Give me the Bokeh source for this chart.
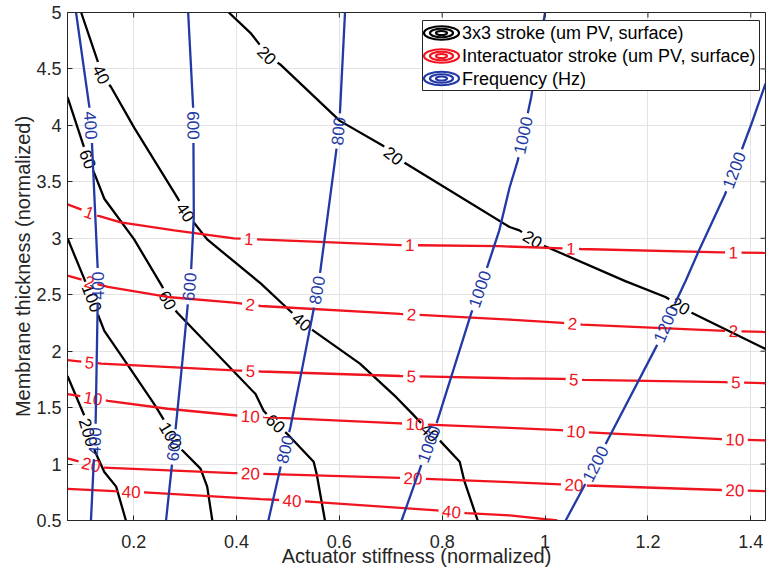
import math
from bokeh.plotting import figure
from bokeh.models import FixedTicker, Range1d
from bokeh.core.properties import value
from bokeh.embed import file_html
from bokeh.resources import INLINE

# ---------------- data ----------------
X0, X1 = 0.0714, 1.4286
Y0, Y1 = 0.5, 5.0

x_ticks = [0.2, 0.4, 0.6, 0.8, 1.0, 1.2, 1.4]
x_tick_labels = ["0.2", "0.4", "0.6", "0.8", "1", "1.2", "1.4"]
y_ticks = [0.5, 1.0, 1.5, 2.0, 2.5, 3.0, 3.5, 4.0, 4.5, 5.0]
y_tick_labels = ["0.5", "1", "1.5", "2", "2.5", "3", "3.5", "4", "4.5", "5"]

x_label = "Actuator stiffness (normalized)"
y_label = "Membrane thickness (normalized)"
series_names = ["3x3 stroke (um PV, surface)",
                "Interactuator stroke (um PV, surface)",
                "Frequency (Hz)"]

# 3x3 stroke contours (black)
stroke_levels = [20, 40, 60, 100, 200]
stroke_x = [
    [0.385, 0.427, 0.446, 0.459, 0.485, 0.601, 0.685, 0.705, 0.730, 0.931, 0.950, 0.976, 1.0, 1.156, 1.234, 1.263, 1.285, 1.4286],
    [0.098, 0.130, 0.137, 0.156, 0.201, 0.285, 0.301, 0.317, 0.343, 0.447, 0.508, 0.527, 0.550, 0.640, 0.711, 0.743, 0.776, 0.795, 0.834, 0.843, 0.869],
    [0.0714, 0.104, 0.111, 0.124, 0.143, 0.201, 0.256, 0.266, 0.285, 0.437, 0.453, 0.476, 0.498, 0.550, 0.556, 0.572],
    [0.0714, 0.104, 0.119, 0.130, 0.143, 0.191, 0.240, 0.259, 0.272, 0.295, 0.330, 0.343, 0.353],
    [0.0714, 0.104, 0.112, 0.126, 0.143, 0.166, 0.185],
]
stroke_y = [
    [5.0, 4.82, 4.71, 4.62, 4.54, 4.04, 3.82, 3.73, 3.66, 3.10, 3.07, 2.99, 2.93, 2.62, 2.48, 2.40, 2.34, 2.02],
    [5.0, 4.57, 4.45, 4.34, 3.98, 3.36, 3.23, 3.14, 2.99, 2.60, 2.34, 2.26, 2.18, 1.89, 1.59, 1.44, 1.28, 1.21, 1.02, 0.85, 0.5],
    [4.25, 3.80, 3.70, 3.57, 3.35, 2.99, 2.57, 2.45, 2.34, 1.62, 1.47, 1.36, 1.27, 1.02, 0.91, 0.5],
    [3.0, 2.64, 2.47, 2.33, 2.18, 1.86, 1.53, 1.39, 1.25, 1.12, 0.96, 0.80, 0.5],
    [1.78, 1.43, 1.28, 1.10, 0.93, 0.80, 0.5],
]
stroke_label_x = [[0.459, 0.705, 0.976, 1.263], [0.137, 0.301, 0.527, 0.776],
                  [0.111, 0.266, 0.476], [0.119, 0.272], [0.112]]
stroke_label_y = [[4.62, 3.73, 2.99, 2.40], [4.45, 3.23, 2.26, 1.28],
                  [3.70, 2.45, 1.36], [2.47, 1.25], [1.28]]

# interactuator stroke contours (red)
inter_levels = [1, 2, 5, 10, 20, 40]
inter_x = [
    [0.0714, 0.130, 0.175, 0.279, 0.395, 0.440, 0.718, 0.911, 1.034, 1.069, 1.343, 1.4286],
    [0.0714, 0.117, 0.150, 0.266, 0.395, 0.447, 0.718, 0.931, 1.034, 1.072, 1.350, 1.4286],
    [0.0714, 0.137, 0.395, 0.447, 0.718, 0.931, 1.034, 1.076, 1.350, 1.4286],
    [0.0714, 0.150, 0.266, 0.401, 0.453, 0.718, 0.931, 1.030, 1.085, 1.343, 1.4286],
    [0.0714, 0.137, 0.395, 0.718, 0.931, 1.030, 1.082, 1.343, 1.4286],
    [0.0714, 0.162, 0.221, 0.447, 0.534, 0.789, 0.847, 0.931, 1.024],
]
inter_y = [
    [3.30, 3.20, 3.14, 3.07, 3.00, 2.99, 2.94, 2.93, 2.91, 2.905, 2.875, 2.87],
    [2.67, 2.61, 2.57, 2.48, 2.43, 2.40, 2.33, 2.28, 2.25, 2.235, 2.18, 2.17],
    [1.92, 1.89, 1.83, 1.82, 1.78, 1.76, 1.755, 1.745, 1.725, 1.716],
    [1.62, 1.56, 1.49, 1.43, 1.415, 1.36, 1.32, 1.30, 1.28, 1.22, 1.21],
    [1.05, 0.97, 0.92, 0.878, 0.84, 0.82, 0.81, 0.77, 0.76],
    [0.78, 0.76, 0.75, 0.69, 0.67, 0.59, 0.565, 0.545, 0.5],
]
inter_label_x = [[0.114, 0.424, 0.737, 1.050, 1.366], [0.114, 0.427, 0.740, 1.053, 1.366],
                 [0.114, 0.427, 0.740, 1.056, 1.371], [0.121, 0.427, 0.747, 1.060, 1.369],
                 [0.117, 0.427, 0.743, 1.056, 1.369], [0.195, 0.508, 0.818]]
inter_label_y = [[3.23, 2.99, 2.93, 2.905, 2.875], [2.61, 2.42, 2.315, 2.24, 2.18],
                 [1.89, 1.82, 1.78, 1.75, 1.72], [1.58, 1.43, 1.35, 1.28, 1.21],
                 [0.99, 0.915, 0.86, 0.81, 0.76], [0.745, 0.67, 0.574]]

# frequency contours (blue)
freq_levels = [400, 600, 800, 1000, 1200]
freq_x = [
    [0.088, 0.114, 0.119, 0.130, 0.130, 0.126, 0.1226, 0.117],
    [0.306, 0.316, 0.317, 0.312, 0.305, 0.295, 0.282, 0.274, 0.263],
    [0.611, 0.601, 0.595, 0.563, 0.550, 0.527, 0.505, 0.485, 0.462],
    [1.0, 0.973, 0.947, 0.931, 0.911, 0.885, 0.856, 0.789, 0.760, 0.721],
    [1.4286, 1.401, 1.350, 1.299, 1.273, 1.240, 1.222, 1.118, 1.079, 1.040],
]
freq_y = [
    [5.0, 4.16, 3.84, 2.74, 2.40, 1.33, 1.03, 0.5],
    [5.0, 4.13, 3.19, 2.74, 2.40, 1.92, 1.33, 0.97, 0.5],
    [5.0, 4.10, 3.81, 2.71, 2.37, 1.83, 1.33, 0.96, 0.5],
    [5.0, 4.25, 3.69, 3.45, 3.07, 2.71, 2.33, 1.36, 1.0, 0.5],
    [4.37, 4.01, 3.39, 2.89, 2.62, 2.30, 2.09, 1.18, 0.83, 0.5],
]
freq_label_x = [[0.117, 0.129, 0.125], [0.314, 0.310, 0.279], [0.598, 0.556, 0.495],
                [0.960, 0.879, 0.772], [1.369, 1.234, 1.098]]
freq_label_y = [[4.0, 2.58, 1.2], [4.0, 2.57, 1.15], [3.95, 2.54, 1.13],
                [3.91, 2.54, 1.18], [3.60, 2.24, 1.0]]

# ---------------- styling ----------------
BLACK, RED, BLUE = "#000000", "#f0141e", "#2239a6"
AX = "#262626"
FONT = "Liberation Sans"
FW, FH = 698, 508
LBL_FS = 17


def to_s(x, y):
    return ((x - X0) / (X1 - X0) * FW, (y - Y0) / (Y1 - Y0) * FH)


def to_d(sx, sy):
    return (X0 + sx / FW * (X1 - X0), Y0 + sy / FH * (Y1 - Y0))


def split_line(xs, ys, lxs, lys, text):
    pts = [to_s(x, y) for x, y in zip(xs, ys)]
    cum = [0.0]
    for i in range(1, len(pts)):
        cum.append(cum[-1] + math.dist(pts[i - 1], pts[i]))

    def at(s):
        s = min(max(s, 0.0), cum[-1])
        for i in range(1, len(pts)):
            if s <= cum[i] or i == len(pts) - 1:
                seg = cum[i] - cum[i - 1]
                t = 0 if seg == 0 else (s - cum[i - 1]) / seg
                return (pts[i - 1][0] + t * (pts[i][0] - pts[i - 1][0]),
                        pts[i - 1][1] + t * (pts[i][1] - pts[i - 1][1]))

    def project(q):
        best = None
        for i in range(1, len(pts)):
            ax, ay = pts[i - 1]
            bx, by = pts[i]
            dx, dy = bx - ax, by - ay
            L2 = dx * dx + dy * dy
            t = 0 if L2 == 0 else max(0, min(1, ((q[0] - ax) * dx + (q[1] - ay) * dy) / L2))
            px, py = ax + t * dx, ay + t * dy
            d = math.hypot(q[0] - px, q[1] - py)
            if best is None or d < best[0]:
                best = (d, cum[i - 1] + t * math.sqrt(L2))
        return best[1]

    cuts, labs = [], []
    for lx, ly in zip(lxs, lys):
        s = project(to_s(lx, ly))
        g = len(text) * 0.556 * LBL_FS / 2 + 3.5
        a, b, c = at(s - g), at(s + g), at(s)
        ang = math.atan2(b[1] - a[1], b[0] - a[0])
        if ang > math.pi / 2:
            ang -= math.pi
        elif ang <= -math.pi / 2:
            ang += math.pi
        cuts.append((s - g, s + g))
        dx, dy = to_d(*c)
        labs.append((dx, dy, ang))
    cuts.sort()
    keep, start = [], 0.0
    for a, b in cuts:
        if a > start:
            keep.append((start, a))
        start = max(start, b)
    if start < cum[-1]:
        keep.append((start, cum[-1]))
    pieces = []
    for a, b in keep:
        seg = [at(a)] + [pts[i] for i in range(len(pts)) if a < cum[i] < b] + [at(b)]
        d = [to_d(*p) for p in seg]
        pieces.append(([p[0] for p in d], [p[1] for p in d]))
    return pieces, labs


p = figure(frame_width=FW, frame_height=FH,
           x_range=Range1d(X0, X1), y_range=Range1d(Y0, Y1),
           output_backend="svg", toolbar_location=None,
           min_border_left=67, min_border_right=1, min_border_top=12, min_border_bottom=57,
           background_fill_color="white", border_fill_color="white",
           outline_line_color=AX, outline_line_width=1)

xt = FixedTicker(ticks=x_ticks)
yt = FixedTicker(ticks=y_ticks)
p.xaxis.ticker = xt
p.yaxis.ticker = yt
p.xaxis.major_label_overrides = {t: l for t, l in zip(x_ticks, x_tick_labels)}
p.yaxis.major_label_overrides = {t: l for t, l in zip(y_ticks, y_tick_labels)}
p.xgrid.ticker = xt
p.ygrid.ticker = yt
p.grid.grid_line_color = "#e3e3e3"
p.grid.grid_line_width = 1

for ax in (p.xaxis[0], p.yaxis[0]):
    ax.major_tick_in = 5
    ax.major_tick_out = 0
    ax.minor_tick_line_color = None
    ax.axis_line_color = AX
    ax.major_tick_line_color = AX
    ax.major_label_text_font = FONT
    ax.major_label_text_font_size = "18px"
    ax.major_label_text_color = AX
    ax.axis_label_text_font = FONT
    ax.axis_label_text_font_size = "20px"
    ax.axis_label_text_font_style = "normal"
    ax.axis_label_text_color = AX
p.xaxis.axis_label = x_label
p.yaxis.axis_label = y_label
p.xaxis.major_label_standoff = 14
p.xaxis.axis_label_standoff = -6
p.yaxis.major_label_standoff = 6
p.yaxis.axis_label_standoff = -1


def draw_group(levels, xs, ys, lxs, lys, color):
    all_x, all_y = [], []
    tx, ty, tt, ta = [], [], [], []
    for lev, x, y, lx, ly in zip(levels, xs, ys, lxs, lys):
        pieces, labs = split_line(x, y, lx, ly, str(lev))
        for px_, py_ in pieces:
            all_x.append(px_)
            all_y.append(py_)
        for dx, dy, ang in labs:
            tx.append(dx)
            ty.append(dy)
            tt.append(str(lev))
            ta.append(ang)
    p.multi_line(all_x, all_y, line_color=color, line_width=2.3)
    p.text(tx, ty, text=tt, angle=ta, text_color=color, text_font=value(FONT),
           text_font_size=f"{LBL_FS}px", text_align="center", text_baseline="middle")


draw_group(stroke_levels, stroke_x, stroke_y, stroke_label_x, stroke_label_y, BLACK)
draw_group(inter_levels, inter_x, inter_y, inter_label_x, inter_label_y, RED)
draw_group(freq_levels, freq_x, freq_y, freq_label_x, freq_label_y, BLUE)

# inward tick marks on the top and right edges (box on)
TICK = 5
tick_dy = TICK / FH * (Y1 - Y0)
tick_dx = TICK / FW * (X1 - X0)
p.segment(x0=x_ticks, y0=[Y1] * len(x_ticks), x1=x_ticks, y1=[Y1 - tick_dy] * len(x_ticks),
          line_color=AX, line_width=1)
p.segment(x0=[X1] * len(y_ticks), y0=y_ticks, x1=[X1 - tick_dx] * len(y_ticks), y1=y_ticks,
          line_color=AX, line_width=1)


# ---------------- legend (drawn at frame pixel offsets) ----------------
def fx(off_left):
    return X0 + off_left / FW * (X1 - X0)


def fy(off_top):
    return Y1 - off_top / FH * (Y1 - Y0)


p.quad(left=[fx(355)], right=[fx(FW - 6)], top=[fy(8)], bottom=[fy(78)],
       fill_color="white", line_color=AX, line_width=1)
row_offsets = [20.5, 43.5, 66]
colors = [BLACK, RED, BLUE]
for off, col, name in zip(row_offsets, colors, series_names):
    for w, h in ((35, 13.5), (23, 8.5), (11, 4)):
        p.ellipse(x=[fx(374)], y=[fy(off)], width=w, height=h,
                  width_units="screen", height_units="screen",
                  fill_alpha=0, line_color=col, line_width=2.2)
    p.text([fx(394.5)], [fy(off)], text=[name], text_color="black", text_font=value(FONT),
           text_font_size="18px", text_align="left", text_baseline="middle")

open("out.html", "w").write(file_html(p, INLINE))
